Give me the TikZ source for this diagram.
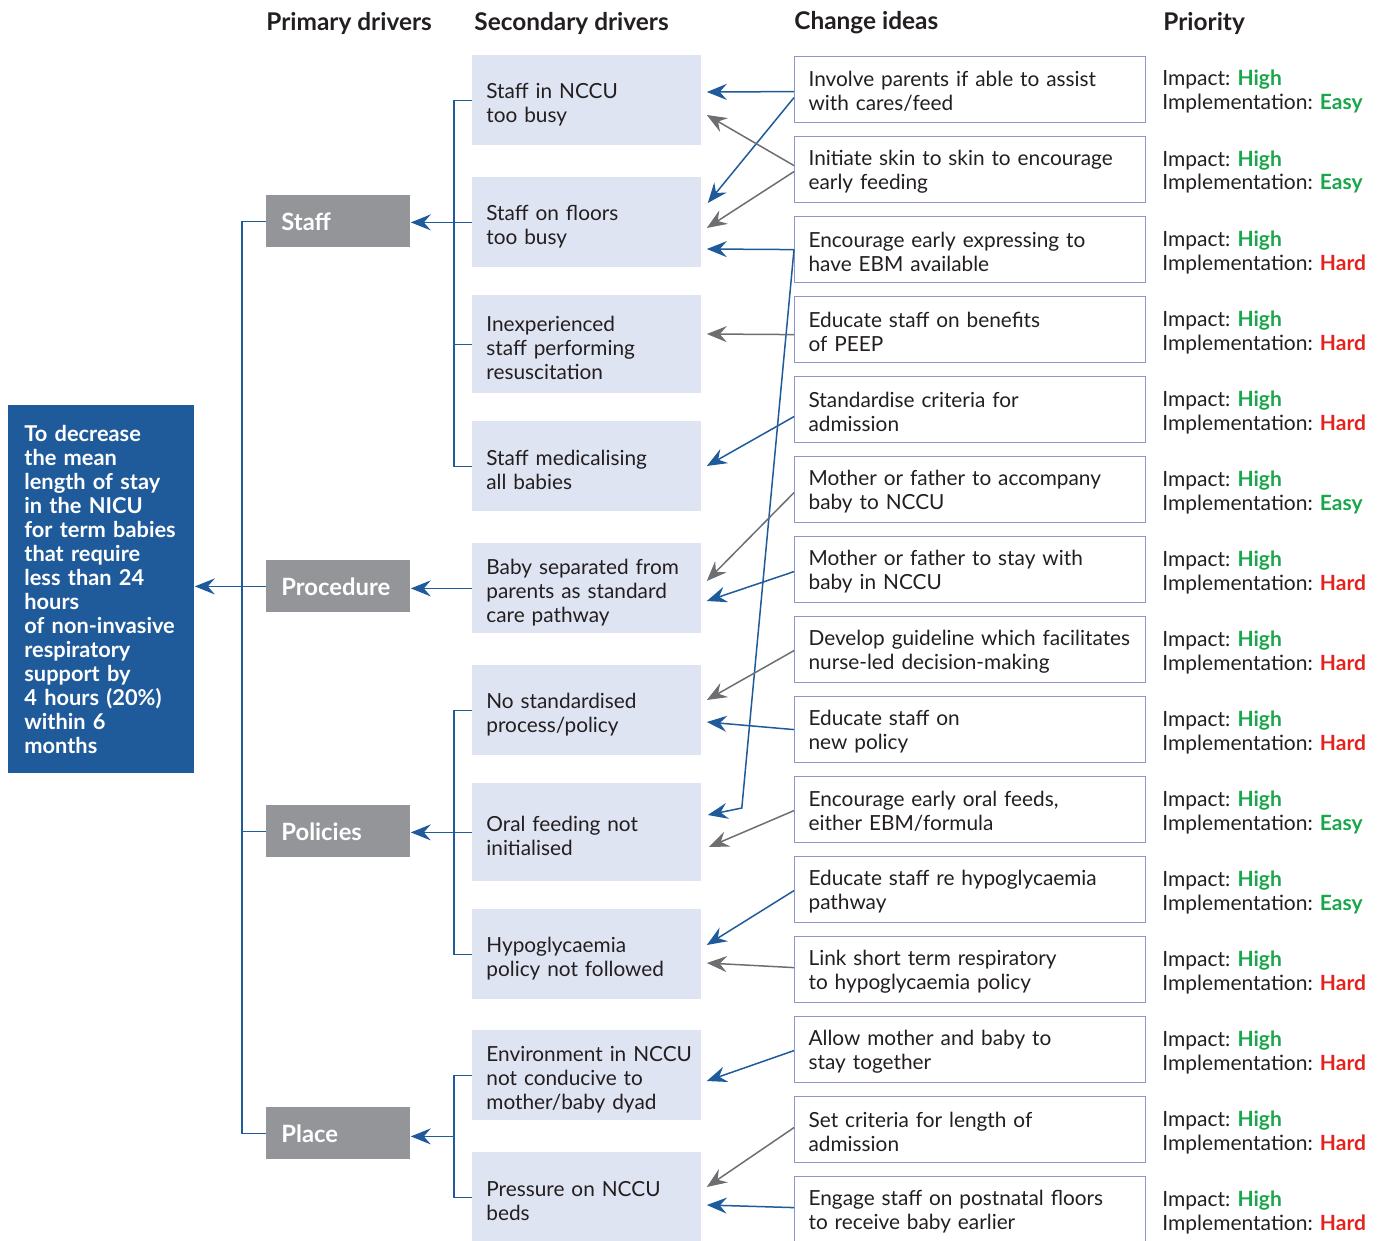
\documentclass[tikz,border=0pt]{standalone}
\usepackage{fontspec}
\setmainfont{Lato}
\usetikzlibrary{arrows.meta,calc}
\def\wLine{0.75pt}
\def\wBox{0.6pt}
\definecolor{cGoal}{HTML}{1F5B9B}
\definecolor{cDriver}{HTML}{939598}
\definecolor{cSecond}{HTML}{DFE4F2}
\definecolor{cIdea}{HTML}{8F96CB}
\definecolor{cLinkB}{HTML}{1F5B9B}
\definecolor{cLinkG}{HTML}{6D6E71}
\definecolor{cEasy}{HTML}{1AA64A}
\definecolor{cHard}{HTML}{E42320}
\definecolor{cInk}{HTML}{231F20}
\tikzset{
  chart/.style={x=0.5pt, y=-0.5pt, font=\fontsize{10.4}{12}\selectfont, text=cInk},
  head/.style={anchor=west, inner sep=0pt, font=\fontsize{12.2}{14}\selectfont\bfseries, text=cInk},
  goal/.style={anchor=north west, fill=cGoal, text=white, font=\fontsize{10.9}{12}\selectfont\bfseries,
    minimum height=184pt, text width=77pt, inner xsep=8pt, align=left},
  driver/.style={anchor=north west, fill=cDriver, text=white, font=\fontsize{11.9}{14}\selectfont\bfseries,
    minimum height=26pt, text width=57pt, inner xsep=7.5pt, align=left},
  second/.style={anchor=north west, fill=cSecond, minimum height=45pt, text width=100.5pt, inner xsep=7pt, align=left,
    execute at begin node={\rule{0pt}{11.6pt}}},
  idea/.style={anchor=north west, draw=cIdea, line width=\wBox, fill=white, minimum height=33pt,
    text width=161.5pt, inner xsep=7pt, align=left, execute at begin node={\rule{0pt}{9.6pt}}},
  prio/.style={anchor=west, inner sep=0pt, align=left, font=\fontsize{10.5}{12}\selectfont},
  link/.style={draw=cLinkB, line width=\wLine},
  arrB/.style={draw=cLinkB, line width=\wLine, -{Stealth[length=10pt, width=8pt, inset=3.5pt]}},
  arrG/.style={draw=cLinkG, line width=\wLine, -{Stealth[length=10pt, width=8pt, inset=3.5pt]}},
}
\newcommand{\prioEasy}{Impact: {\color{cEasy}\bfseries High}\\Implementation: {\color{cEasy}\bfseries Easy}}
\newcommand{\prioHard}{Impact: {\color{cEasy}\bfseries High}\\Implementation: {\color{cHard}\bfseries Hard}}

\begin{document}
\begin{tikzpicture}[chart]
% pixel grid of the page: x to the right, y downwards
\useasboundingbox (0,0) rectangle (1381,1241);

% ---- column heads
\node[head] (hPrim) at (266,23)  {Primary drivers};
\node[head] (hSec)  at (474,23)  {Secondary drivers};
\node[head] (hIdea) at (794,23)  {Change ideas};
\node[head] (hPrio) at (1163,23) {Priority};

% ---- aim
\node[goal] (goal) at (8,405) {To decrease\\the mean\\length of stay\\in the NICU\\for term babies\\that require\\less than 24\\hours\\of non-invasive\\respiratory\\support by\\4 hours (20\%)\\within 6\\months};

% ---- primary drivers
\node[driver] (pStaff) at (266,195)  {Staff};
\node[driver] (pProc)  at (266,560)  {Procedure};
\node[driver] (pPol)   at (266,805)  {Policies};
\node[driver] (pPlace) at (266,1107) {Place};

% ---- secondary drivers
\node[second] (sd1)  at (472,55)   {Staff in NCCU\\too busy};
\node[second] (sd2)  at (472,177)  {Staff on floors\\too busy};
\node[second, minimum height=49pt] (sd3) at (472,295) {Inexperienced\\staff performing\\resuscitation};
\node[second] (sd4)  at (472,421)  {Staff medicalising\\all babies};
\node[second] (sd5)  at (472,543)  {Baby separated from\\parents as standard\\care pathway};
\node[second] (sd6)  at (472,665)  {No standardised\\process/policy};
\node[second, minimum height=49pt] (sd7) at (472,783) {Oral feeding not\\initialised};
\node[second] (sd8)  at (472,909)  {Hypoglycaemia\\policy not followed};
\node[second] (sd9)  at (472,1030) {\mbox{Environment in NCCU}\\not conducive to\\mother/baby dyad};
\node[second] (sd10) at (472,1152) {Pressure on NCCU\\beds};

% ---- change ideas
\node[idea] (i1)  at (794,56)   {Involve parents if able to assist\\with cares/feed};
\node[idea] (i2)  at (794,136)  {Initiate skin to skin to encourage\\early feeding};
\node[idea] (i3)  at (794,216)  {Encourage early expressing to\\have EBM available};
\node[idea] (i4)  at (794,296)  {Educate staff on benefits\\of PEEP};
\node[idea] (i5)  at (794,376)  {Standardise criteria for\\admission};
\node[idea] (i6)  at (794,456)  {Mother or father to accompany\\baby to NCCU};
\node[idea] (i7)  at (794,536)  {Mother or father to stay with\\baby in NCCU};
\node[idea] (i8)  at (794,616)  {Develop guideline which facilitates\\nurse-led decision-making};
\node[idea] (i9)  at (794,696)  {Educate staff on\\new policy};
\node[idea] (i10) at (794,776)  {Encourage early oral feeds,\\either EBM/formula};
\node[idea] (i11) at (794,856)  {Educate staff re hypoglycaemia\\pathway};
\node[idea] (i12) at (794,936)  {Link short term respiratory\\to hypoglycaemia policy};
\node[idea] (i13) at (794,1016) {Allow mother and baby to\\stay together};
\node[idea] (i14) at (794,1096) {Set criteria for length of\\admission};
\node[idea] (i15) at (794,1176) {Engage staff on postnatal floors\\to receive baby earlier};

% ---- priority
\node[prio] (r1)  at (1162,92)   {\prioEasy};
\node[prio] (r2)  at (1162,172)  {\prioEasy};
\node[prio] (r3)  at (1162,252)  {\prioHard};
\node[prio] (r4)  at (1162,332)  {\prioHard};
\node[prio] (r5)  at (1162,412)  {\prioHard};
\node[prio] (r6)  at (1162,492)  {\prioEasy};
\node[prio] (r7)  at (1162,572)  {\prioHard};
\node[prio] (r8)  at (1162,652)  {\prioHard};
\node[prio] (r9)  at (1162,732)  {\prioHard};
\node[prio] (r10) at (1162,812)  {\prioEasy};
\node[prio] (r11) at (1162,892)  {\prioEasy};
\node[prio] (r12) at (1162,972)  {\prioHard};
\node[prio] (r13) at (1162,1052) {\prioHard};
\node[prio] (r14) at (1162,1132) {\prioHard};
\node[prio] (r15) at (1162,1212) {\prioHard};

% ---- tree: primary drivers to aim
\draw[link] (pStaff.west) -- ++(-24,0) |- (pPlace.west);
\draw[link] (pPol.west) -- ++(-24,0);
\draw[arrB] (pProc.west) -- (pProc.west -| goal.east);

% ---- tree: secondary to primary
\draw[link] (sd1.west) -- ++(-18,0) |- (sd4.west);
\draw[link] (sd3.west) -- ++(-18,0);
\draw[arrB] (sd2.west) -- (sd2.west -| pStaff.east);
\draw[arrB] (sd5.west) -- (sd5.west -| pProc.east);
\draw[link] (sd6.west) -- ++(-18,0) |- (sd8.west);
\draw[arrB] (sd7.west) -- (sd7.west -| pPol.east);
\draw[link] (sd9.west) -- ++(-18,0) |- (sd10.west);
\coordinate (placeJoin) at ($(sd9.west)!0.5!(sd10.west)+(-18,0)$);
\draw[arrB] (placeJoin) -- (placeJoin -| pPlace.east);

% ---- change ideas to secondary drivers (blue / grey)
\draw[arrB] ($(i1.west)+(0,2)$) -- ($(sd1.north east)+(5,37)$);
\draw[arrB] ($(i1.west)+(0,8)$) -- ($(sd2.north east)+(6,26)$);
\draw[arrG] ($(i2.west)+(0,-4)$) -- ($(sd1.north east)+(5,60)$);
\draw[arrG] ($(i2.west)+(0,2)$) -- ($(sd2.north east)+(5,51)$);
\draw[arrB] (i3.west) -- ($(sd2.north east)+(5,72)$);
\draw[arrB] (i3.west) -- ($(sd7.north east)+(40,25)$) -- ($(sd7.north east)+(6,32)$);
\draw[arrG] ($(i4.west)+(0,5)$) -- ($(sd3.north east)+(5,39)$);
\draw[arrB] ($(i5.west)+(0,7)$) -- ($(sd4.north east)+(5,45)$);
\draw[arrG] ($(i6.west)+(0,3)$) -- ($(sd5.north east)+(5,38)$);
\draw[arrB] ($(i7.west)+(0,2)$) -- ($(sd5.north east)+(5,58)$);
\draw[arrG] ($(i8.west)+(0,1)$) -- ($(sd6.north east)+(5,35)$);
\draw[arrB] (i9.west) -- ($(sd6.north east)+(5,57)$);
\draw[arrG] ($(i10.west)+(0,1)$) -- ($(sd7.north east)+(7,64)$);
\draw[arrB] ($(i11.west)+(0,1)$) -- ($(sd8.north east)+(5,36)$);
\draw[arrG] ($(i12.west)+(0,-2)$) -- ($(sd8.north east)+(5,54)$);
\draw[arrB] ($(i13.west)+(0,1)$) -- ($(sd9.north east)+(5,51)$);
\draw[arrG] ($(i14.west)+(0,-2)$) -- ($(sd10.north east)+(5,35)$);
\draw[arrB] ($(i15.west)+(0,-2)$) -- ($(sd10.north east)+(5,53)$);
\end{tikzpicture}
\end{document}
